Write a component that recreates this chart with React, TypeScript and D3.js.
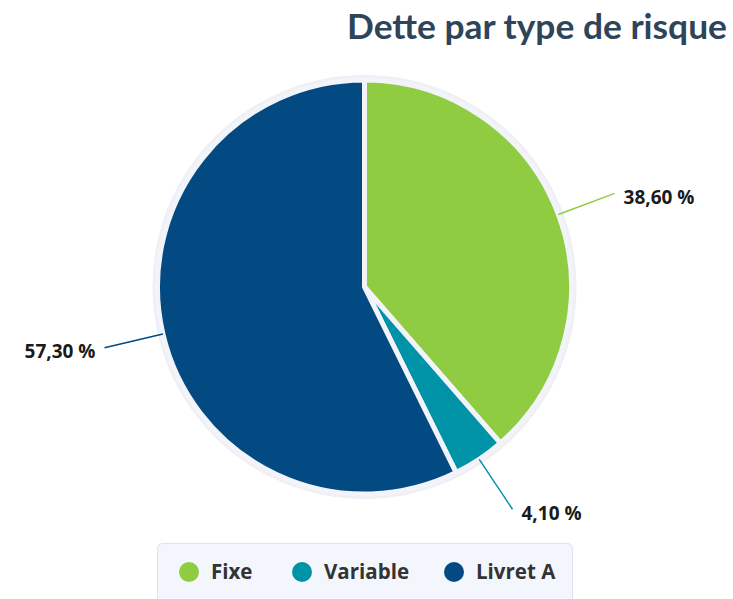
import React, { useRef, useEffect } from "react";
import * as d3 from "d3";

const categories = ["Fixe", "Variable", "Livret A"];
const shares = [38.6, 4.1, 57.3];
const colors = ["#8fcc41", "#0093a8", "#034a82"];
const labels = ["38,60 %", "4,10 %", "57,30 %"];

const App = () => {
  const svgRef = useRef<SVGSVGElement>(null);

  useEffect(() => {
    const svg = d3.select(svgRef.current);
    svg.selectAll("*").remove();

    const cx = 364.5;
    const cy = 287;
    const radius = 207;
    const font = "'Open Sans', 'Noto Sans', sans-serif";

    // Title, right aligned
    svg
      .append("text")
      .attr("x", 727)
      .attr("y", 39)
      .attr("text-anchor", "end")
      .attr("font-family", "Lato, 'Open Sans', sans-serif")
      .attr("font-size", "35px")
      .attr("font-weight", "bold")
      .attr("fill", "#2e4459")
      .attr("textLength", 380)
      .attr("lengthAdjust", "spacingAndGlyphs")
      .text("Dette par type de risque");

    const data = categories.map((c, i) => ({ name: c, value: shares[i], color: colors[i], label: labels[i] }));
    const pie = d3.pie<any>().value((d) => d.value).sort(null);
    const arcs = pie(data);
    const arc = d3.arc<any>().innerRadius(0).outerRadius(radius);

    const g = svg.append("g").attr("transform", `translate(${cx},${cy})`);

    // Light ring behind the slices
    g.append("circle").attr("r", radius + 5).attr("fill", "#eef0f6");

    g.selectAll("path")
      .data(arcs)
      .join("path")
      .attr("d", arc)
      .attr("fill", (d) => d.data.color)
      .attr("stroke", "#f3f4f9")
      .attr("stroke-width", 5)
      .attr("stroke-linejoin", "round");

    // Connector lines and labels
    const lineIn = d3.arc<any>().innerRadius(radius).outerRadius(radius);
    const lineOut = d3.arc<any>().innerRadius(radius + 60).outerRadius(radius + 60);

    arcs.forEach((d) => {
      const [x1, y1] = lineIn.centroid(d);
      const [x2, y2] = lineOut.centroid(d);
      const mid = (d.startAngle + d.endAngle) / 2;
      const right = mid < Math.PI;
      g.append("line")
        .attr("x1", x1)
        .attr("y1", y1)
        .attr("x2", x2)
        .attr("y2", y2)
        .attr("stroke", d.data.color)
        .attr("stroke-width", 1.5);
      g.append("text")
        .attr("x", x2 + (right ? 9 : -9))
        .attr("y", y2 + 4)
        .attr("dy", "0.35em")
        .attr("text-anchor", right ? "start" : "end")
        .attr("font-family", font)
        .attr("font-size", "19px")
        .attr("font-weight", "bold")
        .attr("fill", "#1a1a1a")
        .text(d.data.label);
    });

    // Legend
    const legend = svg.append("g");
    legend
      .append("rect")
      .attr("x", 157.5)
      .attr("y", 543.5)
      .attr("width", 415)
      .attr("height", 70)
      .attr("rx", 5)
      .attr("fill", "#f4f6fd")
      .attr("stroke", "#dde2ee");

    const legendX = d3.scaleOrdinal<string, number>().domain(categories).range([189, 302, 454]);
    categories.forEach((c, i) => {
      legend
        .append("circle")
        .attr("cx", legendX(c))
        .attr("cy", 572)
        .attr("r", 10)
        .attr("fill", colors[i]);
      legend
        .append("text")
        .attr("x", legendX(c) + 22)
        .attr("y", 572)
        .attr("dy", "0.35em")
        .attr("font-family", font)
        .attr("font-size", "20.5px")
        .attr("font-weight", "bold")
        .attr("fill", "#333333")
        .text(c);
    });
  }, []);

  return (
    <div style={{ position: "absolute", left: 0, top: 0 }}>
      <svg ref={svgRef} width={733} height={599}></svg>
    </div>
  );
};

export default App;
